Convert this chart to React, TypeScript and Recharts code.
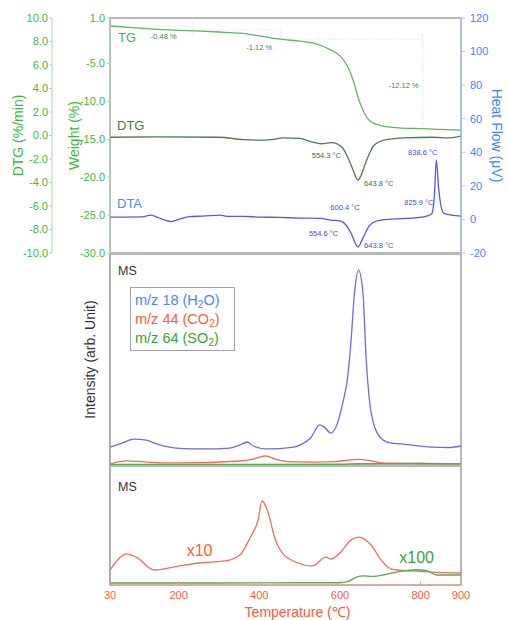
import React from "react";
import {
  LineChart,
  Line,
  XAxis,
  YAxis,
  ReferenceArea,
  ReferenceDot,
  ReferenceLine,
  Legend,
} from "recharts";

const FONT = '"Liberation Sans", Arial, Helvetica, sans-serif';

// temperature ticks (°C)
const TEMP_TICKS = [30, 200, 400, 600, 800, 900];
const WEIGHT_TICKS = [1, -5, -10, -15, -20, -25, -30];
const DTG_TICKS = [10, 8, 6, 4, 2, 0, -2, -4, -6, -8, -10];
const HEAT_TICKS = [120, 100, 80, 60, 40, 20, 0, -20];

// TG, weight (%)
const TG_T = [30, 80, 150, 235, 300, 352, 400, 452, 500, 535, 577, 602, 620, 635, 647, 660, 677, 702, 745, 802, 900];
const TG_W = [-0.05, -0.25, -0.5, -0.7, -0.85, -1.0, -1.35, -1.8, -2.05, -2.3, -3.2, -4.1, -5.5, -7.6, -9.8, -11.5, -12.7, -13.2, -13.5, -13.6, -13.8];

// DTG (%/min)
const DTG_T = [30, 150, 300, 360, 400, 430, 460, 500, 530, 554, 580, 605, 620, 632, 645, 652, 665, 685, 715, 760, 830, 870, 900];
const DTG_V = [-0.15, -0.12, -0.15, -0.35, -0.4, -0.35, -0.2, -0.25, -0.55, -0.7, -0.6, -1.0, -1.9, -2.9, -3.8, -3.4, -2.2, -0.8, -0.35, -0.2, -0.15, -0.2, -0.05];

// DTA, heat flow (µV)
const DTA_T = [30, 110, 132, 150, 165, 182, 202, 227, 260, 302, 320, 360, 400, 450, 500, 552, 577, 602, 615, 627, 645, 657, 672, 690, 727, 777, 815, 827, 834, 839, 844, 850, 857, 877, 900];
const DTA_V = [1.4, 1.5, 2.6, 1.0, -0.3, -1.3, 0.2, 1.7, 2.0, 2.6, 1.8, 1.8, 1.4, 1.2, 0.8, 0.6, -0.4, -1.0, -3.3, -8.0, -16.4, -11.0, -4.0, -1.0, 0.2, 0.8, 2.0, 3.2, 14.0, 35.4, 20.0, 8.6, 3.8, 2.6, 2.0];

// MS, full scale
const MS_NAMES = ["m/z 18 (H2O)", "m/z 44 (CO2)", "m/z 64 (SO2)"];
const H2O_T = [30, 60, 90, 120, 140, 165, 210, 260, 327, 352, 370, 385, 420, 485, 502, 527, 550, 561, 577, 590, 607, 619, 627, 636, 646, 657, 665, 673, 686, 707, 727, 752, 790, 827, 870, 900];
const H2O_V = [8.5, 10.4, 12.3, 11.8, 10.4, 9.0, 7.8, 7.6, 8.0, 9.5, 10.9, 9.0, 7.6, 8.5, 9.5, 12.8, 19.0, 18.0, 15.2, 18.0, 29.4, 41.7, 57.8, 81.5, 92.4, 81.5, 49.8, 30.8, 18.0, 11.8, 10.4, 10.0, 9.2, 8.5, 8.3, 9.0];
const CO2_T = [30, 70, 120, 200, 352, 385, 415, 440, 470, 535, 585, 645, 677, 702, 800, 900];
const CO2_V = [0.5, 2.0, 1.4, 1.0, 1.9, 2.8, 4.3, 2.8, 1.6, 1.4, 1.6, 2.7, 2.0, 1.0, 0.7, 0.5];
const SO2_T = [30, 300, 600, 650, 800, 900];
const SO2_V = [0.3, 0.3, 0.35, 0.6, 0.7, 0.5];

// MS, magnified (CO2 x10, SO2 x100)
const CO2X_T = [30, 72, 95, 140, 202, 252, 315, 352, 377, 397, 407, 420, 440, 457, 490, 532, 565, 577, 602, 627, 647, 677, 702, 727, 777, 827, 900];
const CO2X_V = [12.6, 26.1, 23.5, 12.6, 16.0, 18.5, 20.2, 25.2, 39.5, 54.6, 70.6, 63.0, 37.8, 26.9, 19.3, 16.0, 23.5, 21.8, 27.7, 37.8, 40.3, 33.6, 21.0, 13.4, 11.8, 10.9, 10.1];
const SO2X_T = [30, 300, 600, 620, 640, 657, 680, 740, 790, 815, 840, 870, 900];
const SO2X_V = [1.7, 1.7, 1.9, 3.0, 6.5, 7.6, 7.2, 10.9, 12.8, 12.0, 8.4, 8.4, 8.4];

const rows = (ts: number[], vs: number[]) => ts.map((t, i) => ({ t, v: vs[i] }));

const tgData = rows(TG_T, TG_W);
const dtgData = rows(DTG_T, DTG_V);
const dtaData = rows(DTA_T, DTA_V);
const h2oData = rows(H2O_T, H2O_V);
const co2Data = rows(CO2_T, CO2_V);
const so2Data = rows(SO2_T, SO2_V);
const co2xData = rows(CO2X_T, CO2X_V);
const so2xData = rows(SO2X_T, SO2X_V);

const GREEN_TXT = "#3fb83f";
const GREEN_AXIS = "#a8dca8";
const BLUE_TXT = "#3d86ff";
const BLUE_AXIS = "#a8c8ff";
const RED_TXT = "#ff5a3c";
const FRAME = "#a3a3a3";
const LEGEND_TXT = ["#4a86ff", "#ff5a3c", "#3aa53a"];

// left axes are stacked by id: left1 sits next to the plot, left2 outside it
const W_AXIS = "left1";
const DTG_AXIS = "left2";

const fmt1 = (v: number) => v.toFixed(1);

// rotated axis title; props named so Label's own x/angle don't clobber them
const AxisTitle = ({ viewBox, title, tx, rot = -90, tint, fallbackY }: any) => {
  const cy = viewBox && viewBox.height ? viewBox.y + viewBox.height / 2 : fallbackY;
  return (
    <text
      x={tx}
      y={cy}
      transform={`rotate(${rot} ${tx} ${cy})`}
      textAnchor="middle"
      dominantBaseline="central"
      fill={tint}
      fontSize={14}
    >
      {title}
    </text>
  );
};

const XTitle = ({ viewBox }: any) => {
  const x = viewBox && viewBox.width ? viewBox.x + viewBox.width / 2 + 12 : 297;
  const y = viewBox && viewBox.height ? viewBox.y + 27 : 146;
  return (
    <text x={x} y={y} textAnchor="middle" dominantBaseline="central" fill={RED_TXT} fontSize={14}>
      Temperature (℃)
    </text>
  );
};

const TempTick = ({ x, y, payload }: any) => (
  <g>
    <line x1={x} x2={x} y1={y} y2={y - 4} stroke="#ff9c8c" />
    <text x={x} y={y + 10} textAnchor="middle" dominantBaseline="central" fill={RED_TXT} fontSize={11}>
      {payload.value}
    </text>
  </g>
);

// text pinned to a data point
const note = (
  key: string,
  t: number,
  v: number,
  axis: string,
  text: string,
  dx: number,
  dy: number,
  color: string,
  anchor = "middle",
  size = 7.5
) => (
  <ReferenceDot
    key={key}
    x={t}
    y={v}
    yAxisId={axis}
    r={0}
    fill="none"
    stroke="none"
    ifOverflow="visible"
    label={(p: any) => (
      <text
        x={(p.viewBox?.x ?? 0) + dx}
        y={(p.viewBox?.y ?? 0) + dy}
        textAnchor={anchor}
        dominantBaseline="central"
        fontSize={size}
        fill={color}
      >
        {text}
      </text>
    )}
  />
);

const withSub = (name: string) =>
  name.split(/(?<=[A-Z])(2)/).map((part, i) =>
    i % 2 === 1 ? (
      <sub key={i} style={{ fontSize: "0.7em", verticalAlign: "-0.25em", lineHeight: 0 }}>
        {part}
      </sub>
    ) : (
      <span key={i}>{part}</span>
    )
  );

const MsLegend = ({ payload }: any) => (
  <div
    style={{
      width: 105,
      boxSizing: "border-box",
      border: `1.5px solid ${FRAME}`,
      padding: "3px 4px 2px 4px",
      background: "#fff",
      fontSize: 14.5,
      lineHeight: "19px",
      whiteSpace: "nowrap",
    }}
  >
    {(payload || []).map((entry: any, index: number) => (
      <div key={`legend-${index}`} style={{ color: LEGEND_TXT[index % LEGEND_TXT.length] }}>
        {withSub(String(entry.value))}
      </div>
    ))}
  </div>
);

const dotted = { stroke: "#bfe3bf", strokeDasharray: "1 2", strokeWidth: 1 };

const ThermalPanel = () => (
  <LineChart width={507} height={262} margin={{ top: 18, right: 0, bottom: 9, left: 0 }}>
    <XAxis type="number" dataKey="t" domain={[30, 900]} hide />
    <YAxis
      yAxisId={W_AXIS}
      width={58}
      domain={[-30, 1]}
      ticks={WEIGHT_TICKS}
      tickFormatter={fmt1}
      interval={0}
      tick={{ fill: GREEN_TXT, fontSize: 11 }}
      tickSize={3}
      tickMargin={2}
      axisLine={{ stroke: GREEN_AXIS }}
      tickLine={{ stroke: GREEN_AXIS }}
      label={<AxisTitle title="Weight (%)" tx={74} tint={GREEN_TXT} fallbackY={135} />}
    />
    <YAxis
      yAxisId={DTG_AXIS}
      width={52}
      domain={[-10, 10]}
      ticks={DTG_TICKS}
      tickFormatter={fmt1}
      interval={0}
      tick={{ fill: GREEN_TXT, fontSize: 11 }}
      tickSize={3}
      tickMargin={1}
      axisLine={{ stroke: GREEN_AXIS }}
      tickLine={{ stroke: GREEN_AXIS }}
      label={<AxisTitle title="DTG (%/min)" tx={18} tint={GREEN_TXT} fallbackY={135} />}
    />
    <YAxis
      yAxisId="hf"
      orientation="right"
      width={46}
      domain={[-20, 120]}
      ticks={HEAT_TICKS}
      interval={0}
      tick={{ fill: BLUE_TXT, fontSize: 11 }}
      tickSize={4}
      tickMargin={5}
      axisLine={{ stroke: BLUE_AXIS }}
      tickLine={{ stroke: BLUE_AXIS }}
      label={<AxisTitle title="Heat Flow (μV)" tx={497} rot={90} tint={BLUE_TXT} fallbackY={135} />}
    />
    <ReferenceArea yAxisId={W_AXIS} x1={30} x2={900} y1={-30} y2={1} fill="none" stroke={FRAME} strokeWidth={1.5} />

    <ReferenceLine yAxisId={W_AXIS} segment={[{ x: 120, y: -0.05 }, { x: 235, y: -0.05 }]} {...dotted} />
    <ReferenceLine yAxisId={W_AXIS} segment={[{ x: 235, y: 0.4 }, { x: 235, y: -1.5 }]} {...dotted} />
    <ReferenceLine yAxisId={W_AXIS} segment={[{ x: 235, y: -0.6 }, { x: 452, y: -0.6 }]} {...dotted} />
    <ReferenceLine yAxisId={W_AXIS} segment={[{ x: 452, y: -0.5 }, { x: 452, y: -2.8 }]} {...dotted} />
    <ReferenceLine yAxisId={W_AXIS} segment={[{ x: 452, y: -1.8 }, { x: 805, y: -1.8 }]} {...dotted} />
    <ReferenceLine yAxisId={W_AXIS} segment={[{ x: 805, y: -1.2 }, { x: 805, y: -14.2 }]} {...dotted} />

    <Line data={tgData} yAxisId={W_AXIS} dataKey="v" type="monotone" stroke="#62b562" strokeWidth={1.3} dot={false} isAnimationActive={false} />
    <Line data={dtgData} yAxisId={DTG_AXIS} dataKey="v" type="monotone" stroke="#4d7d4d" strokeWidth={1.3} dot={false} isAnimationActive={false} />
    <Line data={dtaData} yAxisId="hf" dataKey="v" type="monotone" stroke="#5656f0" strokeWidth={1.3} dot={false} isAnimationActive={false} />

    {note("tg", 30, -1.5, W_AXIS, "TG", 8, 1, "#4cb04c", "start", 13)}
    {note("dtg", 30, 0.9, DTG_AXIS, "DTG", 7, 1, "#437a43", "start", 13)}
    {note("dta", 30, 9.5, "hf", "DTA", 7, 0, "#4b87ff", "start", 13)}

    {note("tg1", 235, -0.7, W_AXIS, "-0.48 %", -29, 6, "#3a8a3a")}
    {note("tg2", 452, -1.8, W_AXIS, "-1.12 %", -21, 8, "#3a8a3a")}
    {note("tg3", 805, -8.5, W_AXIS, "-12.12 %", -4, -5, "#3a8a3a", "end")}

    {note("dtg1", 554, -0.7, DTG_AXIS, "554.3 °C", 5, 12, "#3e6e3e")}
    {note("dtg2", 645, -3.8, DTG_AXIS, "643.8 °C", 6, 3, "#3e6e3e", "start")}

    {note("dta1", 839, 35.4, "hf", "838.6 °C", 1, -8, "#4a4ae6", "end")}
    {note("dta2", 600, -1.0, "hf", "600.4 °C", 5, -14, "#4a4ae6")}
    {note("dta3", 827, 3.2, "hf", "825.9 °C", 2, -12, "#4a4ae6", "end")}
    {note("dta4", 552, 0.6, "hf", "554.6 °C", 3, 15, "#4a4ae6")}
    {note("dta5", 645, -16.4, "hf", "643.8 °C", 6, -1, "#4a4ae6", "start")}
  </LineChart>
);

const MsPanel = () => (
  <LineChart width={507} height={212} margin={{ top: 0, right: 46, bottom: 1, left: 0 }}>
    <XAxis type="number" dataKey="t" domain={[30, 900]} hide />
    <YAxis
      yAxisId="i"
      width={110}
      domain={[0, 100]}
      tick={false}
      tickLine={false}
      axisLine={{ stroke: FRAME }}
      label={<AxisTitle title="Intensity (arb. Unit)" tx={90} tint="#333" fallbackY={106} />}
    />
    <ReferenceArea yAxisId="i" x1={30} x2={900} y1={0} y2={100} fill="none" stroke={FRAME} strokeWidth={1.5} />
    <Line data={h2oData} name={MS_NAMES[0]} yAxisId="i" dataKey="v" type="monotone" stroke="#6a6af2" strokeWidth={1.3} dot={false} isAnimationActive={false} />
    <Line data={co2Data} name={MS_NAMES[1]} yAxisId="i" dataKey="v" type="monotone" stroke="#f5675a" strokeWidth={1.3} dot={false} isAnimationActive={false} />
    <Line data={so2Data} name={MS_NAMES[2]} yAxisId="i" dataKey="v" type="monotone" stroke="#5aaa50" strokeWidth={1.3} dot={false} isAnimationActive={false} />
    <Legend
      content={<MsLegend />}
      layout="horizontal"
      verticalAlign="middle"
      wrapperStyle={{ top: 33, left: 130, width: 105 }}
    />
    {note("ms1", 30, 92, "i", "MS", 8, 0, "#333", "start", 12.5)}
  </LineChart>
);

const MsZoomPanel = () => (
  <LineChart width={507} height={154} margin={{ top: 0, right: 46, bottom: 0, left: 0 }}>
    <XAxis
      type="number"
      dataKey="t"
      domain={[30, 900]}
      ticks={TEMP_TICKS}
      interval={0}
      height={35}
      tickSize={0}
      tickMargin={0}
      tickLine={false}
      axisLine={{ stroke: "#ff9c8c" }}
      tick={<TempTick />}
      label={<XTitle />}
    />
    <YAxis
      yAxisId="b"
      width={110}
      domain={[0, 100]}
      tick={false}
      tickLine={false}
      axisLine={{ stroke: FRAME }}
    />
    <ReferenceArea yAxisId="b" x1={30} x2={900} y1={0} y2={100} fill="none" stroke={FRAME} strokeWidth={1.5} />
    <Line data={co2xData} yAxisId="b" dataKey="v" type="monotone" stroke="#f86a5a" strokeWidth={1.3} dot={false} isAnimationActive={false} />
    <Line data={so2xData} yAxisId="b" dataKey="v" type="monotone" stroke="#58a84f" strokeWidth={1.3} dot={false} isAnimationActive={false} />
    {note("ms2", 30, 82, "b", "MS", 8, 0, "#333", "start", 12.5)}
    {note("x10", 252, 29.4, "b", "x10", 0, 0, RED_TXT, "middle", 16)}
    {note("x100", 790, 23.5, "b", "x100", 0, 0, "#3aa53a", "middle", 16)}
  </LineChart>
);

export default function App() {
  return (
    <div
      style={{
        position: "absolute",
        left: 0,
        top: 0,
        width: 507,
        height: 620,
        background: "#fff",
        fontFamily: FONT,
        overflow: "hidden",
      }}
    >
      <div style={{ position: "absolute", left: 0, top: 254 }}>
        <MsPanel />
      </div>
      <div style={{ position: "absolute", left: 0, top: 466 }}>
        <MsZoomPanel />
      </div>
      <div style={{ position: "absolute", left: 0, top: 0, pointerEvents: "none" }}>
        <ThermalPanel />
      </div>
    </div>
  );
}
